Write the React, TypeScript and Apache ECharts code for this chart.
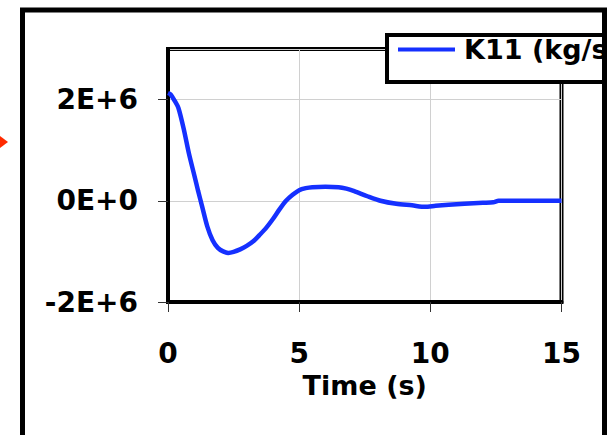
import React, { useEffect, useRef } from "react";
import * as echarts from "echarts";

const times = [0, 0.1, 0.25, 0.4, 0.6, 0.8, 1.0, 1.15, 1.3, 1.5, 1.7, 1.9, 2.1, 2.3, 2.5, 2.75, 3.0, 3.25, 3.5, 3.75, 4.0, 4.25, 4.5, 4.75, 5.0, 5.25, 5.5, 6.0, 6.5, 6.8, 7.1, 7.6, 8.1, 8.7, 9.3, 9.8, 10.2, 10.7, 11.3, 12.0, 12.4, 12.6, 13.5, 15];
const k11 = [2.13e6, 2.1e6, 1.98e6, 1.83e6, 1.42e6, 0.93e6, 0.51e6, 0.19e6, -0.11e6, -0.51e6, -0.78e6, -0.93e6, -1.0e6, -1.03e6, -1.01e6, -0.96e6, -0.89e6, -0.8e6, -0.67e6, -0.53e6, -0.36e6, -0.17e6, 0.0, 0.12e6, 0.21e6, 0.25e6, 0.27e6, 0.28e6, 0.27e6, 0.24e6, 0.19e6, 0.09e6, 0.0, -0.06e6, -0.09e6, -0.12e6, -0.1e6, -0.08e6, -0.06e6, -0.04e6, -0.03e6, 0.0, 0.0, 0.0];
const seriesName = "K11 (kg/s)";
const xTicks = [0, 5, 10, 15];
const yTickLabels: Record<string, string> = { "-2000000": "-2E+6", "0": "0E+0", "2000000": "2E+6" };

const FONT = "DejaVu Sans";

export default function App() {
  const ref = useRef<HTMLDivElement>(null);
  useEffect(() => {
    if (!ref.current) return;
    const chart = echarts.init(ref.current, undefined, { renderer: "svg" });
    const data = times.map((t, i) => [t, k11[i]]);
    chart.setOption({
      animation: false,
      backgroundColor: "#ffffff",
      grid: {
        left: 168,
        top: 49,
        right: 46.5,
        bottom: 133,
        show: true,
        borderColor: "#000",
        borderWidth: 4,
        backgroundColor: "transparent",
      },
      legend: {
        show: true,
        left: 387,
        top: 35,
        orient: "horizontal",
        backgroundColor: "#fff",
        borderColor: "#000",
        borderWidth: 4,
        borderRadius: 0,
        padding: [1, 12, 19, 11],
        icon: "rect",
        itemWidth: 57,
        itemHeight: 4,
        textStyle: {
          fontFamily: FONT,
          fontWeight: "bold",
          fontSize: 27,
          color: "#000",
          padding: [0, 0, 0, 4],
        },
        z: 5,
      },
      xAxis: {
        type: "value",
        min: xTicks[0],
        max: xTicks[xTicks.length - 1],
        interval: 5,
        name: "Time (s)",
        nameLocation: "middle",
        nameGap: 68,
        nameTextStyle: { fontFamily: FONT, fontWeight: "bold", fontSize: 27, color: "#000" },
        axisLine: { show: true, onZero: false, lineStyle: { color: "#000", width: 4 } },
        axisTick: { show: true, length: 10, lineStyle: { color: "#333", width: 1 } },
        axisLabel: {
          margin: 37,
          fontFamily: FONT,
          fontWeight: "bold",
          fontSize: 28,
          color: "#000",
        },
        splitLine: { show: true, lineStyle: { color: "#d0d0d0", width: 1 } },
      },
      yAxis: {
        type: "value",
        min: -2e6,
        max: 3e6,
        interval: 2e6,
        axisLine: { show: true, onZero: false, lineStyle: { color: "#000", width: 4 } },
        axisTick: { show: true, length: 10, lineStyle: { color: "#333", width: 1 } },
        axisLabel: {
          margin: 30,
          showMaxLabel: false,
          fontFamily: FONT,
          fontWeight: "bold",
          fontSize: 28,
          color: "#000",
          formatter: (v: number) => yTickLabels[String(v)] ?? "",
        },
        splitLine: { show: true, lineStyle: { color: "#d0d0d0", width: 1 } },
      },
      series: [
        {
          name: seriesName,
          type: "line",
          data,
          showSymbol: false,
          smooth: 0.25,
          lineStyle: { color: "#1530ff", width: 4.5 },
          itemStyle: { color: "#1530ff" },
          z: 3,
        },
      ],
      graphic: [
        {
          type: "rect",
          z: 100,
          shape: { x: 22.5, y: 10, width: 582, height: 500 },
          style: { fill: "none", stroke: "#000", lineWidth: 5 },
        },
        {
          type: "rect",
          z: 100,
          shape: { x: 607, y: 0, width: 10, height: 435 },
          style: { fill: "#fff", stroke: "none" },
        },
        {
          type: "polygon",
          z: 100,
          shape: { points: [[0, 136], [8, 142], [0, 148]] },
          style: { fill: "#ff2a00", stroke: "none" },
        },
      ],
    });
    return () => chart.dispose();
  }, []);
  return (
    <div
      ref={ref}
      style={{ position: "fixed", left: 0, top: 0, width: 608, height: 435, background: "#fff" }}
    />
  );
}
